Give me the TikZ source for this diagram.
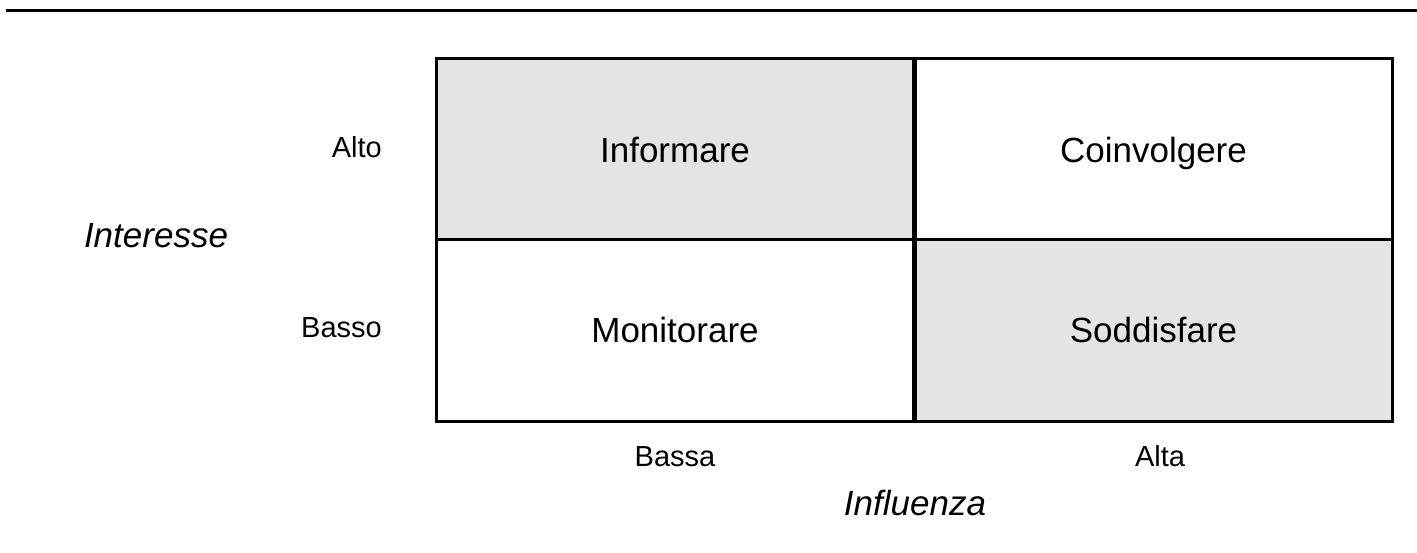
\documentclass[tikz,border=0pt]{standalone}
\usepackage{fontspec}
\setmainfont{Liberation Sans}
\definecolor{cellgray}{HTML}{E4E4E4}
\begin{document}
\begin{tikzpicture}[x=1pt,y=-1pt,
  cell/.style={draw=black,line width=3pt,minimum width=477pt,minimum height=182pt,inner sep=0pt,
    text height=25pt,text depth=0pt,font=\fontsize{35}{40}\selectfont},
  shaded/.style={fill=cellgray},
  plain/.style={fill=white},
  level/.style={inner sep=0pt,font=\fontsize{29}{34}\selectfont},
  axis/.style={inner sep=0pt,font=\fontsize{35}{40}\selectfont\itshape}]
\useasboundingbox (0,0) rectangle (1417,553);
\coordinate (ls) at (6,11);
\coordinate (le) at (1417,11);
\draw[line width=3pt] (ls) -- (le);
\node[cell,shaded] (inf) at (675,150) {Informare};
\node[cell,plain] (coi) at (1153.5,150) {Coinvolgere};
\node[cell,plain] (mon) at (675,330.25) {Monitorare};
\node[cell,shaded] (sod) at (1153.5,330.25) {Soddisfare};
\node[level,anchor=base east] (alto) at (382,158) {Alto};
\node[level,anchor=base east] (basso) at (382,338) {Basso};
\node[level,anchor=base] (bassa) at (675,466) {Bassa};
\node[level,anchor=base] (alta) at (1160,466) {Alta};
\node[axis,anchor=base] (interesse) at (156,248) {Interesse};
\node[axis,anchor=base] (influenza) at (915,515) {Influenza};
\end{tikzpicture}
\end{document}
